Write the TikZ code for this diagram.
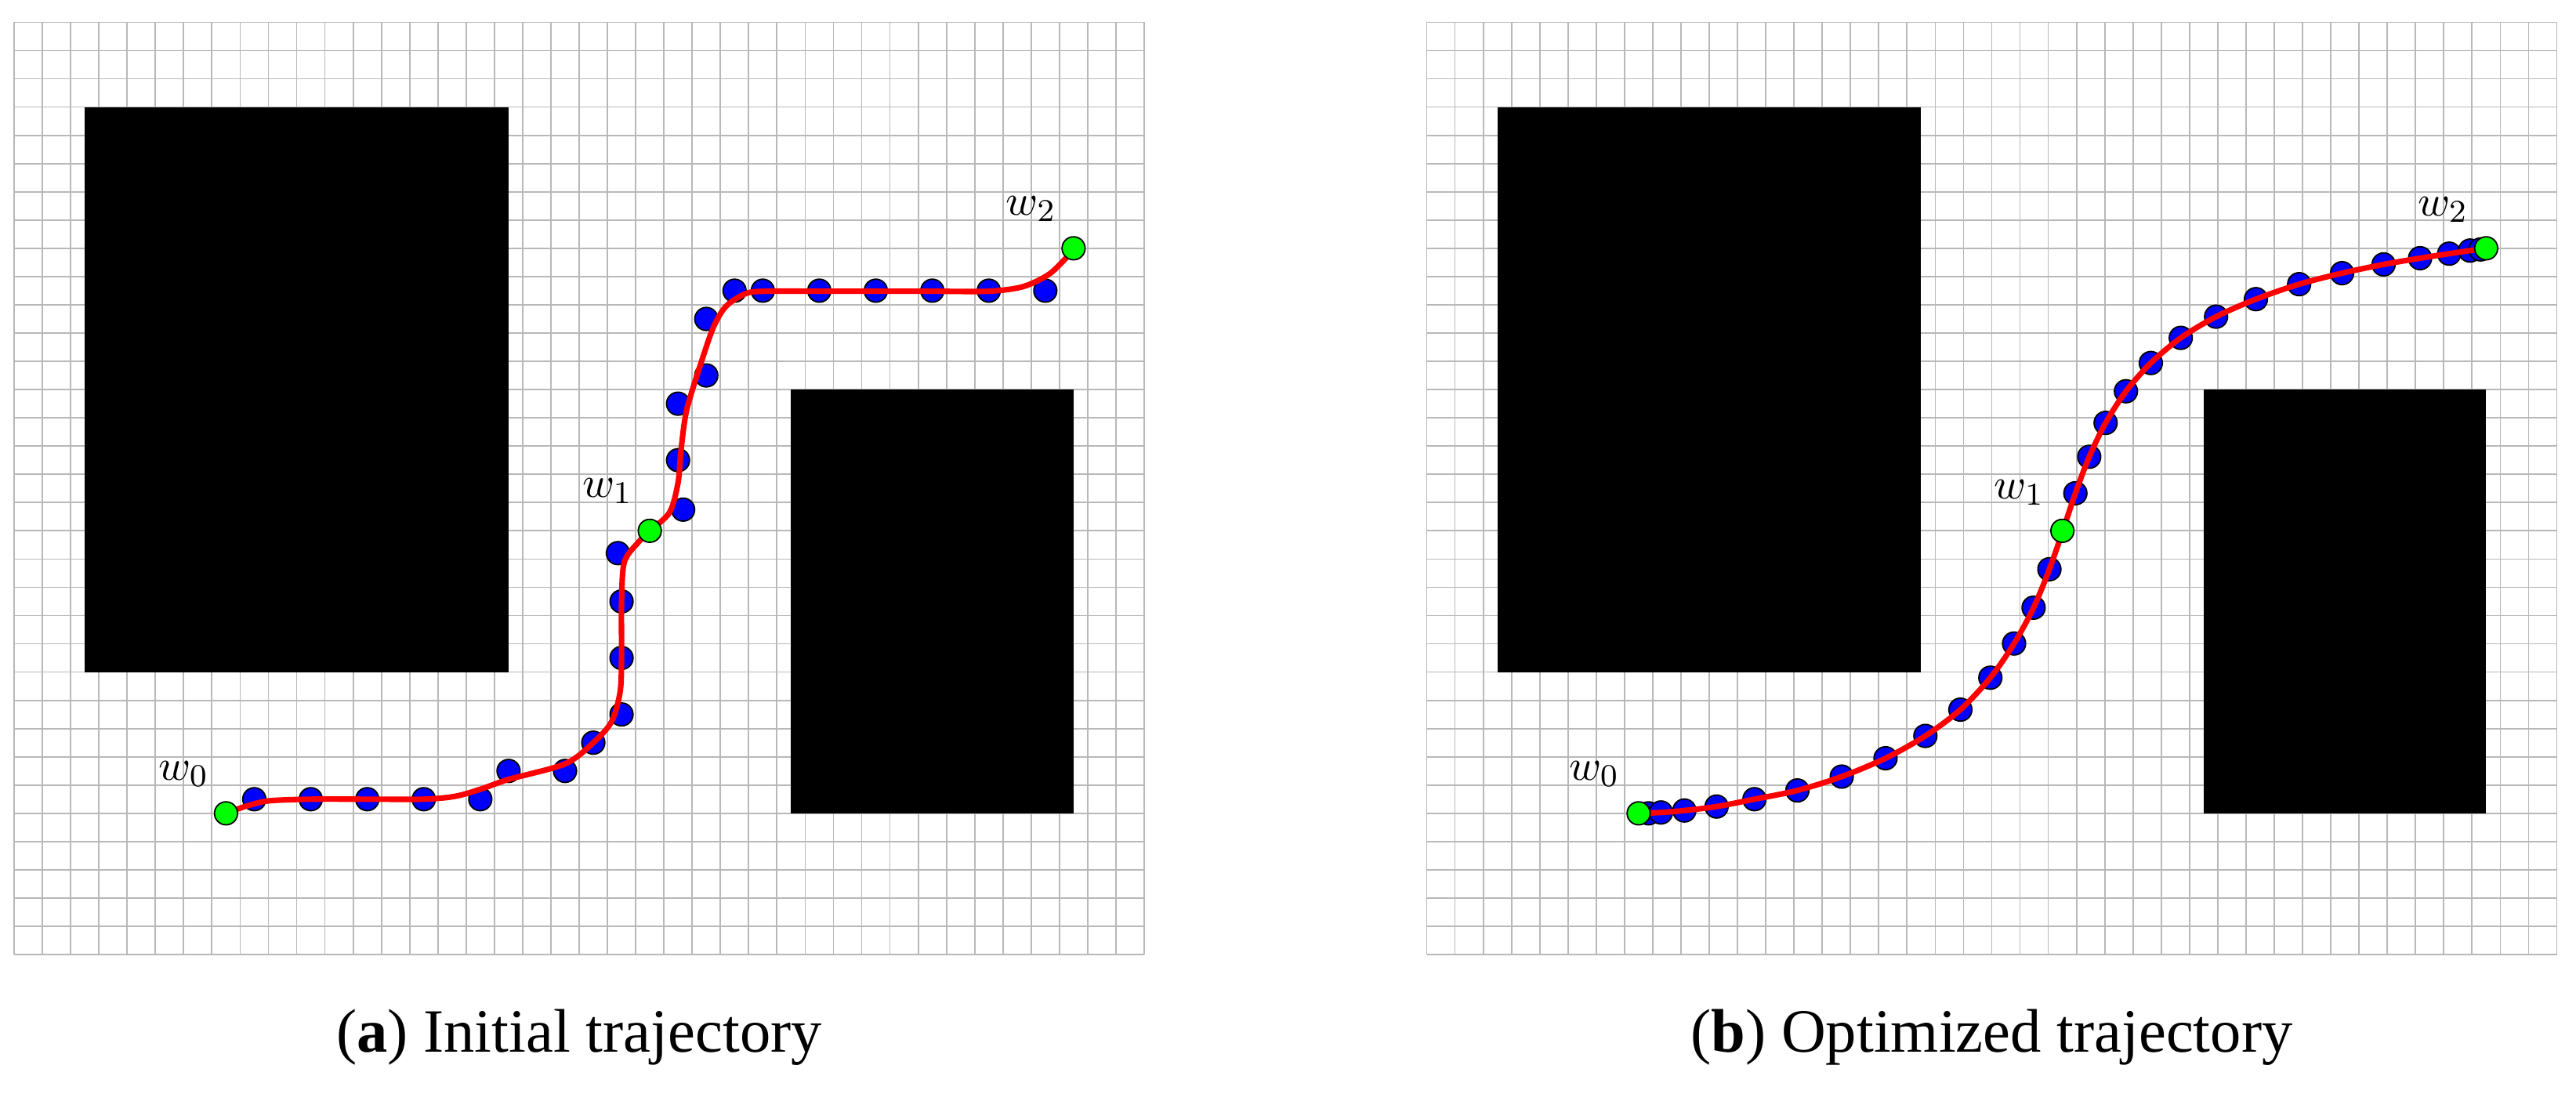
\documentclass[tikz,border=0pt]{standalone}
\usepackage{fontspec}
\newfontfamily\capfamily{Liberation Serif}
\usepackage{tikz}

\tikzset{
  gridline/.style={draw=black!28, line width=0.35pt},
  obstacle/.style={fill=black},
  waypt/.style={fill=blue, draw=black, line width=0.35pt},
  endpt/.style={circle, fill=green, draw=black, line width=0.35pt, minimum size=5.8pt, inner sep=0pt},
  traj/.style={draw=red, line width=1.4pt, line cap=round, line join=round},
  wlabel/.style={font=\fontsize{10.95}{13}\selectfont, inner sep=0pt},
  capfont/.style={font=\capfamily\fontsize{15.5}{18}\selectfont, anchor=base}
}

\begin{document}
\begin{tikzpicture}[x=0.25cm, y=0.25cm]
\useasboundingbox (0,0) rectangle (91.18,38.72);
% (a) initial trajectory
\begin{scope}[shift={(0.5,37.93)}, yscale=-1]
\draw[gridline] (0,0) grid[step=1] (40,33);
\fill[obstacle] (2.5,3) rectangle (17.5,23);
\fill[obstacle] (27.5,13) rectangle (37.5,28);
\foreach \x/\y in {8.5/27.5, 10.5/27.5, 12.5/27.5, 14.5/27.5, 16.5/27.5, 17.5/26.5,
  19.5/26.5, 20.5/25.5, 21.5/24.5, 21.5/22.5, 21.5/20.5, 21.37/18.79,
  23.68/17.25, 23.5/15.5, 23.5/13.5, 24.5/12.5, 24.5/10.5, 25.5/9.5, 26.5/9.5,
  28.5/9.5, 30.5/9.5, 32.5/9.5, 34.5/9.5, 36.5/9.5}
  \draw[waypt] (\x,\y) circle (2.9pt);
\draw[traj] plot[smooth, tension=0.5] coordinates {(7.5,28) (8.2,27.75) (9,27.56)
  (10.5,27.5) (12.5,27.5) (14.5,27.5) (15.6,27.4) (16.5,27.15) (17.5,26.8)
  (19.5,26.25) (20.5,25.5) (21.15,24.75) (21.45,23.7) (21.5,22.5) (21.5,20.5)
  (21.6,19.1) (22.1,18.4) (22.5,18) (23.2,17.35) (23.5,16.3) (23.6,15.2)
  (23.8,13.75) (24.3,12.1) (24.75,10.8) (25.2,10.05) (25.9,9.6) (26.6,9.52)
  (28.5,9.52) (30.5,9.52) (32.5,9.52) (34.5,9.52) (35.7,9.36) (36.6,8.94)
  (37.2,8.38) (37.5,8)};
\node[endpt] (w0a) at (7.5,28) {};
\node[endpt] (w1a) at (22.5,18) {};
\node[endpt] (w2a) at (37.5,8) {};
\node[wlabel] (lw0a) at (6,26.6) {$w_0$};
\node[wlabel] (lw1a) at (21,16.6) {$w_1$};
\node[wlabel] (lw2a) at (36,6.6) {$w_2$};
\end{scope}
% (b) optimized trajectory
\begin{scope}[shift={(50.5,37.93)}, yscale=-1]
\draw[gridline] (0,0) grid[step=1] (40,33);
\fill[obstacle] (2.5,3) rectangle (17.5,23);
\fill[obstacle] (27.5,13) rectangle (37.5,28);
\foreach \x/\y in {7.85/28, 8.29/27.97, 9.12/27.9, 10.26/27.76, 11.6/27.5,
  13.12/27.19, 14.69/26.7, 16.24/26.05, 17.65/25.26, 18.89/24.33, 19.95/23.2,
  20.79/21.99, 21.48/20.72, 22.04/19.36, 22.96/16.67, 23.45/15.38, 24.03/14.18,
  24.75/13.06, 25.63/12.06, 26.69/11.17, 27.94/10.42, 29.35/9.8, 30.88/9.27,
  32.4/8.88, 33.87/8.57, 35.16/8.35, 36.19/8.19, 36.93/8.08, 37.3/8.04}
  \draw[waypt] (\x,\y) circle (2.9pt);
\draw[traj] plot[smooth, tension=0.5] coordinates {(7.5,28) (8.29,27.97)
  (9.12,27.9) (10.26,27.76) (11.6,27.5) (13.12,27.19) (14.69,26.7) (16.24,26.05)
  (17.65,25.26) (18.89,24.33) (19.95,23.2) (20.79,21.99) (21.48,20.72)
  (22.04,19.36) (22.51,18.01) (22.96,16.67) (23.45,15.38) (24.03,14.18)
  (24.75,13.06) (25.63,12.06) (26.69,11.17) (27.94,10.42) (29.35,9.8)
  (30.88,9.27) (32.4,8.88) (33.87,8.57) (35.16,8.35) (36.19,8.19) (36.93,8.08)
  (37.5,8)};
\node[endpt] (w0b) at (7.5,28) {};
\node[endpt] (w1b) at (22.5,18) {};
\node[endpt] (w2b) at (37.5,8) {};
\node[wlabel] (lw0b) at (5.93,26.6) {$w_0$};
\node[wlabel] (lw1b) at (20.97,16.64) {$w_1$};
\node[wlabel] (lw2b) at (35.97,6.64) {$w_2$};
\end{scope}
% captions
\node[capfont] (capa) at (20.5,1.47) {(\textbf{a}) Initial trajectory};
\node[capfont] (capb) at (70.5,1.47) {(\textbf{b}) Optimized trajectory};
\end{tikzpicture}
\end{document}
